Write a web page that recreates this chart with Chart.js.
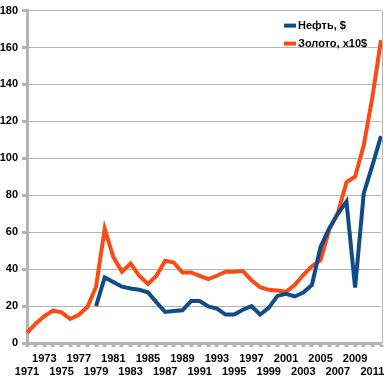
<!DOCTYPE html>
<html>
<head>
<meta charset="utf-8">
<script src="https://cdn.jsdelivr.net/npm/chart.js@4/dist/chart.umd.min.js"></script>
<style>
	body { margin: 0; background: #fff; }
</style>
</head>
<body>
<canvas id="mychart" width="387" height="383"></canvas>
<script>
var years = [];
for (var y = 1971; y <= 2012; y++) years.push(String(y));

var oil = [null, null, null, null, null, null, null, null,
	20, 35.5, 33, 30.5, 29.5, 28.8, 27.5, 22, 16.8, 17.3, 17.7, 22.7,
	22.7, 19.8, 18.6, 15.4, 15.4, 18, 20, 15.4, 19, 25.5,
	26.6, 25.2, 27.3, 31.4, 52, 62, 70, 76.6, 30, 81, 96, 112];

var gold = [5.5, 10.5, 14.5, 17.5, 16.6, 13, 15.3, 19.5, 30.5, 61.8,
	46.5, 38.6, 43, 36.4, 32, 36.4, 44.5, 43.6, 38.2, 38.2,
	36.4, 34.6, 36.4, 38.6, 38.6, 39, 34, 30.2, 28.8, 28.4,
	27.7, 31.4, 36.8, 41.6, 44.8, 61.4, 70.4, 87, 90, 107, 133, 164];

var yTicks = [0, 20, 40, 60, 80, 100, 120, 140, 160, 180];

var axisGray = '#b4b4b4';
var fontFam = '"Liberation Sans", Arial, sans-serif';

// legend drawn inside the plot, top right
var innerLegend = {
	id: 'innerLegend',
	afterDatasetsDraw: function(chart) {
		var ctx = chart.ctx;
		var a = chart.chartArea;
		ctx.save();
		// right frame line
		ctx.strokeStyle = axisGray;
		ctx.lineWidth = 1;
		ctx.beginPath();
		ctx.moveTo(a.right + 1.5, a.top);
		ctx.lineTo(a.right + 1.5, a.bottom);
		ctx.stroke();

		ctx.font = 'bold 11px ' + fontFam;
		ctx.textBaseline = 'middle';
		ctx.fillStyle = '#000';
		chart.data.datasets.forEach(function(ds, i) {
			var x = a.right - 97;
			var yy = a.top + 15 + i * 18;
			ctx.fillStyle = ds.borderColor;
			ctx.fillRect(x, yy - 2, 12, 4);
			ctx.fillStyle = '#000';
			ctx.fillText(ds.label, x + 14, yy);
		});
		ctx.restore();
	}
};

var ctx = document.getElementById('mychart');

var chart = new Chart(ctx, {
	type: 'line',
	data: {
		labels: years,
		datasets: [
			{
				label: 'Нефть, $',
				data: oil,
				borderColor: '#0f4c88',
				backgroundColor: '#0f4c88',
				borderWidth: 4,
				pointRadius: 0,
				tension: 0,
				spanGaps: false
			},
			{
				label: 'Золото, x10$',
				data: gold,
				borderColor: '#fa4a16',
				backgroundColor: '#fa4a16',
				borderWidth: 4,
				pointRadius: 0,
				tension: 0
			}
		]
	},
	options: {
		responsive: false,
		animation: false,
		layout: { padding: { top: 7, right: 6, left: 0, bottom: 0 } },
		plugins: {
			legend: { display: false },
			tooltip: { enabled: false }
		},
		scales: {
			x: {
				offset: false,
				afterFit: function(s) { s.height = 40; },
				border: { display: true, width: 3, color: axisGray },
				grid: {
					drawOnChartArea: false,
					tickLength: 4,
					tickWidth: 4,
					tickColor: axisGray
				},
				ticks: {
					autoSkip: false,
					maxRotation: 0,
					minRotation: 0,
					padding: 5,
					color: '#000',
					font: { family: fontFam, size: 11, weight: 'bold' },
					callback: function(val, i) {
						var lab = years[i];
						if (i % 4 === 0) return ['', lab];
						if (i % 4 === 2) return [lab, ''];
						return '';
					}
				}
			},
			y: {
				min: 0,
				max: 180,
				afterFit: function(s) { s.width = 27; },
				afterBuildTicks: function(s) {
					s.ticks = yTicks.map(function(v) { return { value: v }; });
				},
				border: { display: true, width: 3, color: axisGray },
				grid: {
					color: axisGray,
					lineWidth: 1,
					tickLength: 5,
					tickWidth: 3,
					tickColor: axisGray
				},
				ticks: {
					padding: 4,
					color: '#000',
					font: { family: fontFam, size: 11, weight: 'bold' }
				}
			}
		}
	},
	plugins: [innerLegend]
});
</script>
</body>
</html>
